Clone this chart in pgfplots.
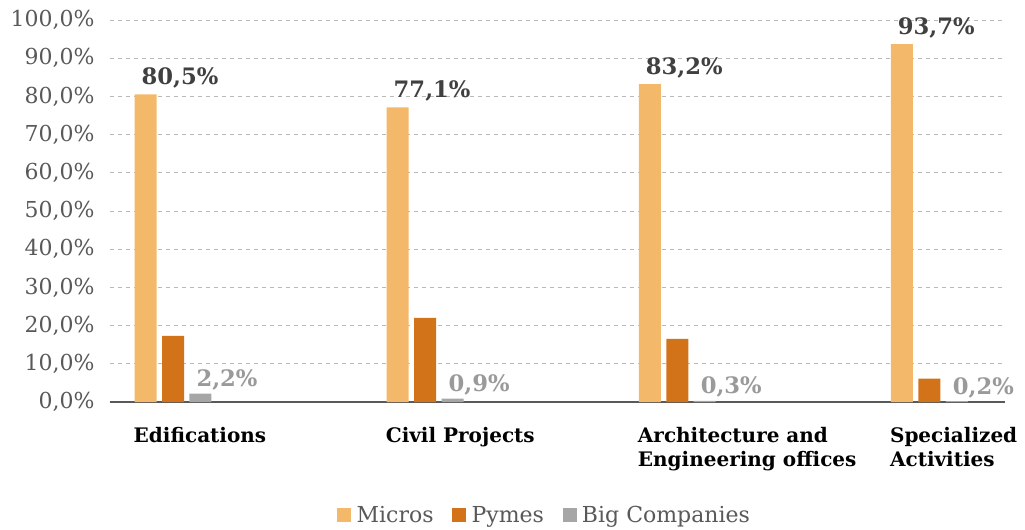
\documentclass[border=0pt]{standalone}
\usepackage{pgfplots}
\pgfplotsset{compat=1.18}
\usepackage{fontspec}
\setmainfont{DejaVu Serif}
\definecolor{micros}{HTML}{F4B86A}
\definecolor{pymes}{HTML}{D2731A}
\definecolor{big}{HTML}{A6A6A6}
\definecolor{txt}{HTML}{595959}
\definecolor{lbl}{HTML}{404040}
\definecolor{biglbl}{HTML}{9A9A9A}
\begin{document}
\begin{tikzpicture}
\path[use as bounding box] (-82.5pt,-95.25pt) rectangle (686.25pt,301.5pt);
\begin{axis}[
  at={(0,0)}, anchor=south west,
  scale only axis, width=671.25pt, height=286.5pt,
  ybar=4.1pt, bar width=16.5pt,
  xmin=-0.25, xmax=3.3, ymin=0, ymax=100,
  xtick={0,1,2,3},
  xticklabels={Edifications,Civil Projects,{Architecture and\\Engineering offices},{Specialized\\Activities}},
  xticklabel style={align=left, anchor=north west, xshift=-33pt, yshift=-11pt, font=\fontsize{15}{18}\selectfont\bfseries, text=black},
  ytick={0,10,...,100},
  yticklabel={\pgfmathprintnumber[fixed,fixed zerofill,precision=1,use comma]{\tick}\%},
  yticklabel style={font=\fontsize{16.5}{19}\selectfont, text=txt, xshift=-8pt},
  /pgf/number format/assume math mode=true,
  ymajorgrids, major grid style={dashed, draw=gray!55, line width=0.7pt},
  axis lines*=left, axis line style={-},
  x axis line style={draw=txt, line width=0.8pt},
  y axis line style={draw=none},
  major tick style={draw=none},
  legend style={at={(0.486,-0.296)}, anchor=center, draw=none, legend columns=-1,
    font=\fontsize{16.5}{19}\selectfont, text=txt,
    /tikz/every even column/.append style={column sep=12pt},
    /tikz/every odd column/.append style={column sep=2pt}},
  legend image code/.code={\fill[#1] (0pt,-5pt) rectangle (10.5pt,5.5pt);},
  nodes near coords style={anchor=south west, xshift=-6.5pt, font=\fontsize{17}{20}\selectfont\bfseries},
]
\addplot[fill=micros, draw=none,
  nodes near coords={\pgfmathprintnumber[fixed,fixed zerofill,precision=1,use comma]{\pgfplotspointmeta}\%},
  every node near coord/.append style={text=lbl, yshift=1pt}]
  coordinates {(0,80.5) (1,77.1) (2,83.2) (3,93.7)};
\addplot[fill=pymes, draw=none]
  coordinates {(0,17.3) (1,22.0) (2,16.5) (3,6.1)};
\addplot[fill=big, draw=none,
  nodes near coords={\pgfmathprintnumber[fixed,fixed zerofill,precision=1,use comma]{\pgfplotspointmeta}\%},
  every node near coord/.append style={text=biglbl, yshift=-1pt}]
  coordinates {(0,2.2) (1,0.9) (2,0.3) (3,0.2)};
\legend{Micros,Pymes,Big Companies}
\end{axis}
\end{tikzpicture}
\end{document}
